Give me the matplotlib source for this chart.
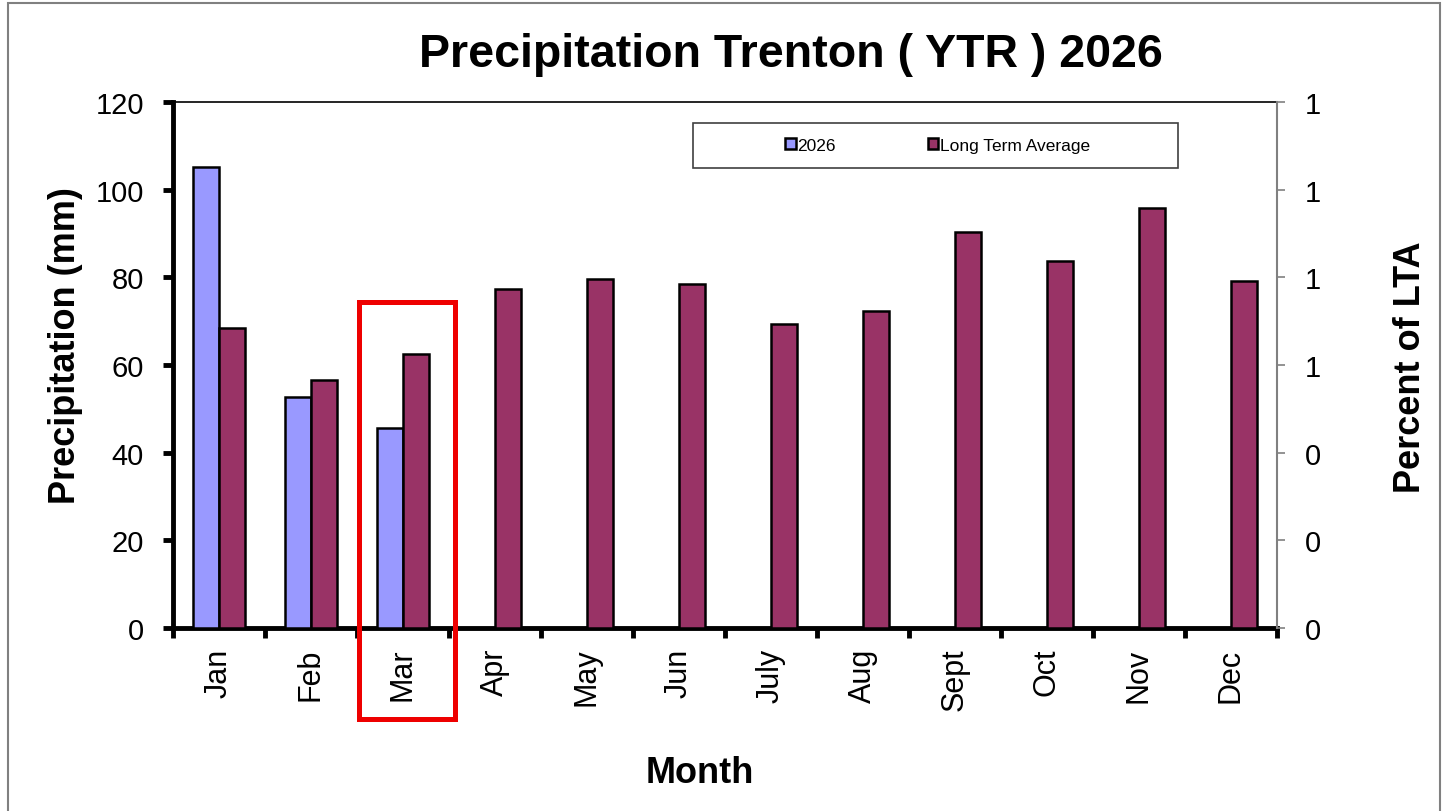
import matplotlib.pyplot as plt
import numpy as np
from matplotlib.patches import Rectangle
from matplotlib.ticker import FormatStrFormatter

plt.rcParams['font.family'] = ['Liberation Sans', 'DejaVu Sans']

# data
months = ['Jan', 'Feb', 'Mar', 'Apr', 'May', 'Jun', 'July', 'Aug', 'Sept', 'Oct', 'Nov', 'Dec']
precip_2026 = [105.2, 52.6, 45.6]
long_term_avg = [68.4, 56.6, 62.5, 77.3, 79.6, 78.5, 69.4, 72.3, 90.3, 83.7, 95.8, 79.2]

fig = plt.figure(figsize=(14.45, 8.12), dpi=100)
ax = fig.add_axes([0.1197, 0.2254, 0.764, 0.6478])

x = np.arange(len(months))
w = 0.285
ax.bar(x[:len(precip_2026)] - w / 2, precip_2026, w, color='#9999FF',
       edgecolor='black', linewidth=1.8, label='2026', zorder=3)
ax.bar(x + w / 2, long_term_avg, w, color='#993366',
       edgecolor='black', linewidth=1.8, label='Long Term Average', zorder=3)

ax.set_xlim(-0.5, len(months) - 0.5)
ax.set_ylim(0, 120)
ax.set_yticks(range(0, 121, 20))
ax.set_xticks(x)
ax.set_xticklabels(months, rotation=90, fontsize=22)
ax.set_xticks(np.arange(-0.5, len(months), 1), minor=True)
ax.tick_params(axis='x', which='major', length=0, pad=14)
ax.tick_params(axis='x', which='minor', length=7, width=3.5, direction='out')
ax.tick_params(axis='y', labelsize=21, length=7, width=3.5, direction='out', pad=14)

ax.spines['left'].set_linewidth(3.5)
ax.spines['bottom'].set_linewidth(3.5)
ax.spines['top'].set_linewidth(1.2)
ax.spines['right'].set_visible(False)

# right axis (percent of LTA)
ax2 = ax.twinx()
ax2.set_ylim(0, 1.2)
ax2.set_yticks(np.arange(0, 1.21, 0.2))
ax2.yaxis.set_major_formatter(FormatStrFormatter('%.0f'))
ax2.tick_params(axis='y', labelsize=21, length=6, width=1.2, color='#808080',
                direction='out', pad=14)
for s in ['left', 'top', 'bottom']:
    ax2.spines[s].set_visible(False)
ax2.spines['right'].set_color('#808080')
ax2.spines['right'].set_linewidth(1.5)

fig.text(0.547, 0.932, 'Precipitation Trenton ( YTR ) 2026', fontsize=33.5,
         fontweight='bold', ha='center', va='center')
fig.text(0.045, 0.574, 'Precipitation (mm)', fontsize=26, fontweight='bold',
         rotation=90, ha='center', va='center')
fig.text(0.9758, 0.548, 'Percent of LTA', fontsize=26, fontweight='bold',
         rotation=90, ha='center', va='center')
fig.text(0.4844, 0.048, 'Month', fontsize=26, fontweight='bold',
         ha='center', va='center')

# legend with separate box
leg_box = Rectangle((693 / 1445, 1 - 169 / 812), 485 / 1445, 45 / 812,
                    transform=fig.transFigure, facecolor='white',
                    edgecolor='#404040', linewidth=1.2, zorder=5)
fig.patches.append(leg_box)
leg = fig.legend(loc='center', bbox_to_anchor=(0.649, 1 - 146.5 / 812), ncol=2,
                 frameon=False, fontsize=12.5, handlelength=0.6, handleheight=0.6,
                 handletextpad=0.1, columnspacing=5.3)
leg.set_zorder(6)

# red highlight around March
fig.patches.append(Rectangle((358.5 / 1445, 1 - 719.5 / 812), 96 / 1445, 417 / 812,
                             transform=fig.transFigure, fill=False,
                             edgecolor='#EE0000', linewidth=3.6, zorder=7))

# outer frame
fig.patches.append(Rectangle((8 / 1445, -0.02), 1432 / 1445, 1.02 - 4 / 812,
                             transform=fig.transFigure, fill=False,
                             edgecolor='#808080', linewidth=1.5))

fig.savefig('out.png', dpi=100)
